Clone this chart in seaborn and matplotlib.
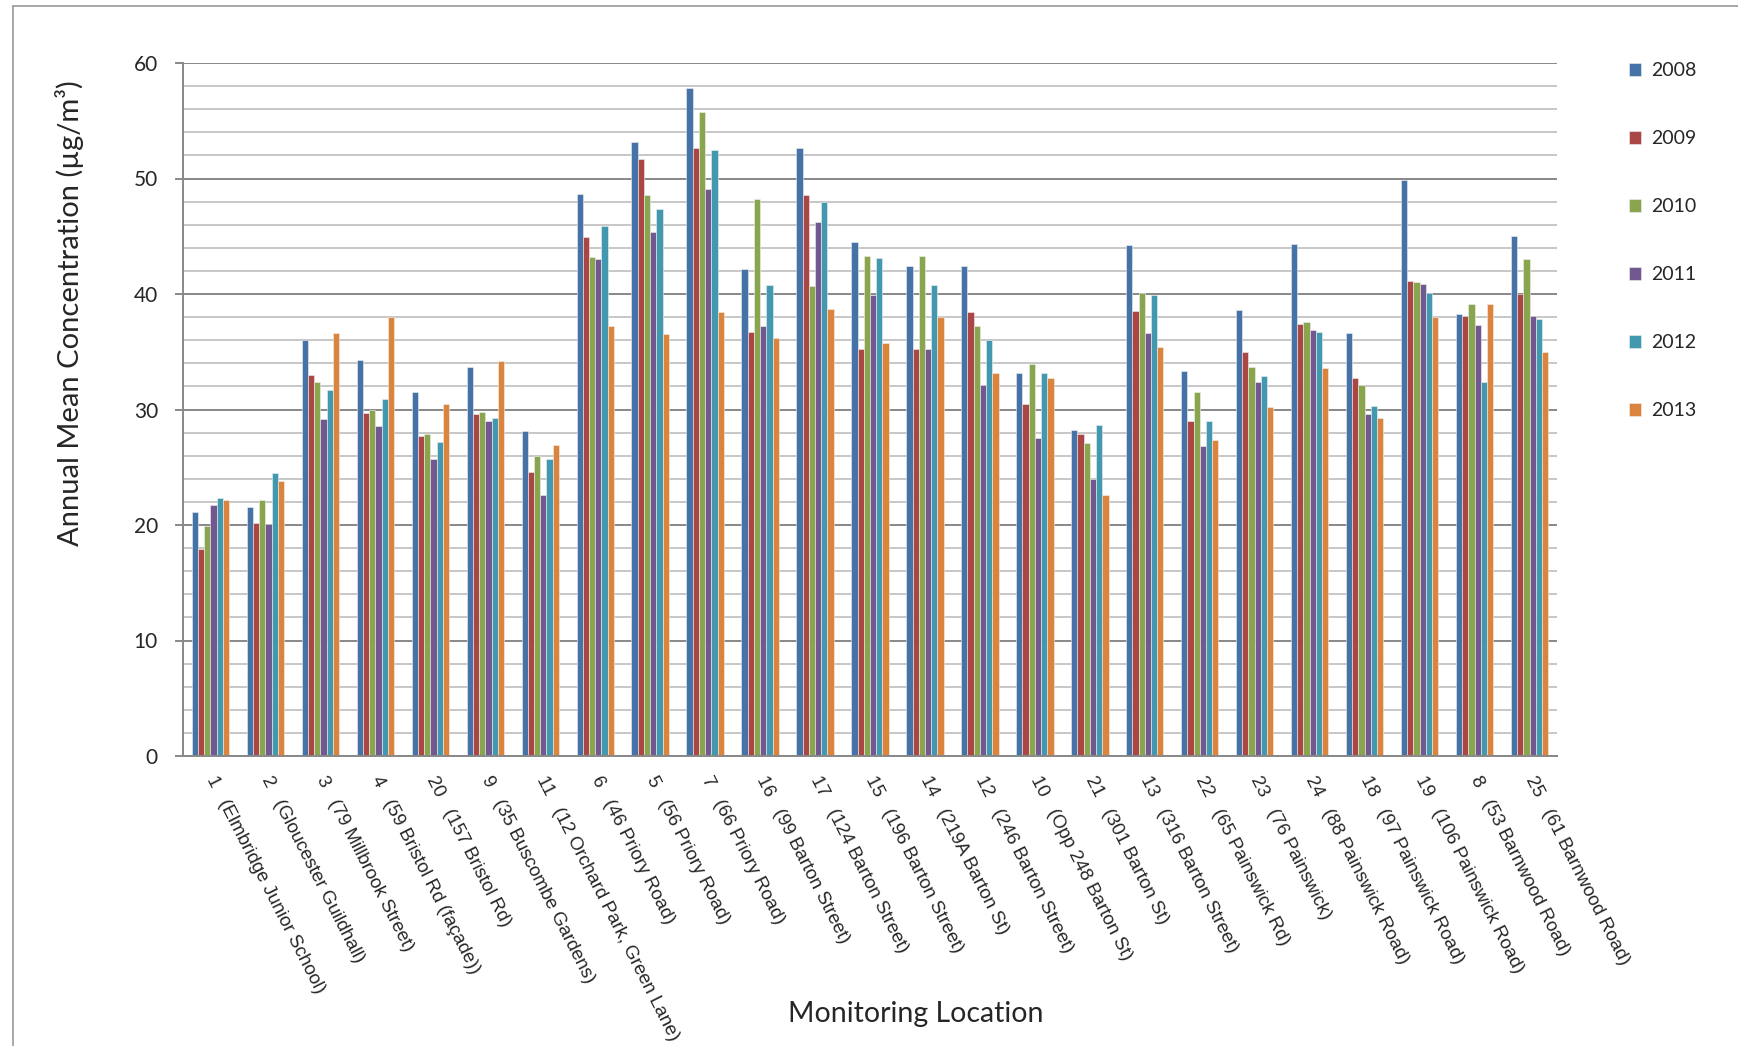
import matplotlib
matplotlib.use("Agg")
import matplotlib.pyplot as plt
import seaborn as sns
import pandas as pd
from matplotlib.lines import Line2D
from matplotlib.ticker import MultipleLocator

location_ids = ["1", "2", "3", "4", "20", "9", "11", "6", "5", "7", "16", "17", "15",
                "14", "12", "10", "21", "13", "22", "23", "24", "18", "19", "8", "25"]
location_names = ["(Elmbridge Junior School)", "(Gloucester Guildhall)", "(79 Millbrook Street)",
                  "(59 Bristol Rd (façade))", "(157 Bristol Rd)", "(35 Buscombe Gardens)",
                  "(12 Orchard Park, Green Lane)", "(46 Priory Road)", "(56 Priory Road)",
                  "(66 Priory Road)", "(99 Barton Street)", "(124 Barton Street)",
                  "(196 Barton Street)", "(219A Barton St)", "(246 Barton Street)",
                  "(Opp 248 Barton St)", "(301 Barton St)", "(316 Barton Street)",
                  "(65 Painswick Rd)", "(76 Painswick)", "(88 Painswick Road)",
                  "(97 Painswick Road)", "(106 Painswick Road)", "(53 Barnwood Road)",
                  "(61 Barnwood Road)"]
years = ["2008", "2009", "2010", "2011", "2012", "2013"]

v2008 = [21.1, 21.6, 36.0, 34.3, 31.5, 33.7, 28.1, 48.7, 53.2, 57.8, 42.2, 52.6, 44.5,
         42.4, 42.4, 33.2, 28.2, 44.2, 33.3, 38.6, 44.3, 36.6, 49.9, 38.3, 45.0]
v2009 = [17.9, 20.2, 33.0, 29.7, 27.7, 29.6, 24.6, 44.9, 51.7, 52.6, 36.7, 48.6, 35.2,
         35.2, 38.4, 30.5, 27.9, 38.5, 29.0, 35.0, 37.4, 32.7, 41.1, 38.1, 40.0]
v2010 = [19.9, 22.2, 32.4, 30.0, 27.9, 29.8, 26.0, 43.2, 48.6, 55.8, 48.2, 40.7, 43.3,
         43.3, 37.2, 33.9, 27.1, 40.1, 31.5, 33.7, 37.6, 32.1, 41.0, 39.1, 43.0]
v2011 = [21.7, 20.1, 29.2, 28.6, 25.7, 29.0, 22.6, 43.0, 45.4, 49.1, 37.2, 46.2, 39.9,
         35.2, 32.1, 27.5, 24.0, 36.6, 26.8, 32.4, 36.9, 29.6, 40.9, 37.3, 38.1]
v2012 = [22.3, 24.5, 31.7, 30.9, 27.2, 29.3, 25.7, 45.9, 47.4, 52.5, 40.8, 48.0, 43.1,
         40.8, 36.0, 33.2, 28.7, 39.9, 29.0, 32.9, 36.7, 30.3, 40.1, 32.4, 37.8]
v2013 = [22.2, 23.8, 36.6, 38.0, 30.5, 34.2, 26.9, 37.2, 36.5, 38.4, 36.2, 38.7, 35.8,
         38.0, 33.2, 32.7, 22.6, 35.4, 27.4, 30.2, 33.6, 29.3, 38.0, 39.1, 35.0]

colors = ["#4572A7", "#AA4643", "#89A54E", "#71588F", "#4198AF", "#DB843D"]

series = [v2008, v2009, v2010, v2011, v2012, v2013]
rows = []
for yr, vals in zip(years, series):
    for lid, v in zip(location_ids, vals):
        rows.append({"loc": lid, "year": yr, "value": v})
df = pd.DataFrame(rows)

sns.set_theme(style="white")
plt.rcParams["font.family"] = ["Lato", "DejaVu Sans"]

fig = plt.figure(figsize=(17.38, 10.46), dpi=100)
ax = fig.add_axes([183 / 1738, 1 - 756 / 1046, (1557 - 183) / 1738, (756 - 63) / 1046])

sns.barplot(data=df, x="loc", y="value", hue="year", order=location_ids, hue_order=years,
            palette=colors, width=0.68, ax=ax, saturation=1, edgecolor="#f0f0f0",
            linewidth=0.4, legend=True)

ax.set_ylim(0, 60)
ax.set_xlim(-0.5, len(location_ids) - 0.5)
ax.yaxis.set_major_locator(MultipleLocator(10))
ax.yaxis.set_minor_locator(MultipleLocator(2))
ax.grid(which="minor", axis="y", color="#b8b8b8", linewidth=1.1)
ax.grid(which="major", axis="y", color="#888888", linewidth=1.4)
ax.set_axisbelow(True)
for s in ["top", "right"]:
    ax.spines[s].set_visible(False)
ax.spines["left"].set_color("#888888")
ax.spines["bottom"].set_color("#888888")
ax.spines["left"].set_linewidth(1.4)
ax.spines["bottom"].set_linewidth(1.4)

ax.tick_params(axis="y", which="major", left=True, length=6, width=1.4, color="#888888",
               labelsize=15, pad=12)
ax.tick_params(axis="y", which="minor", left=False)
ax.tick_params(axis="x", bottom=False, pad=9)

labels = [f"{i}   {n}" for i, n in zip(location_ids, location_names)]
ax.set_xticks(range(len(location_ids)))
ax.set_xticklabels(labels, rotation=-63, ha="left", va="center", rotation_mode="anchor",
                   fontsize=13.5, family=["Liberation Sans", "DejaVu Sans"])
ax.set_xlabel("")
ax.set_ylabel("")

fig.text(70 / 1738, 1 - 313 / 1046, "Annual Mean Concentration (µg/m³)", rotation=90,
         ha="center", va="center", fontsize=21)
fig.text(916 / 1738, 1 - 1014 / 1046, "Monitoring Location", ha="center", va="center",
         fontsize=20.5)

handles, lbls = ax.get_legend_handles_labels()
leg = ax.legend(handles, lbls, loc="upper left", bbox_to_anchor=(1611 / 1738, 1 - 45 / 1046),
                bbox_transform=fig.transFigure, frameon=False, fontsize=14,
                handlelength=0.65, handleheight=0.65, handletextpad=0.5, labelspacing=2.62)

# outer frame
fig.add_artist(Line2D([13 / 1738, 13 / 1738], [0, 1 - 6 / 1046], transform=fig.transFigure,
                      color="#9a9a9a", linewidth=1.2))
fig.add_artist(Line2D([13 / 1738, 1], [1 - 6 / 1046, 1 - 6 / 1046], transform=fig.transFigure,
                      color="#9a9a9a", linewidth=1.2))

fig.savefig("out.png", dpi=100)
